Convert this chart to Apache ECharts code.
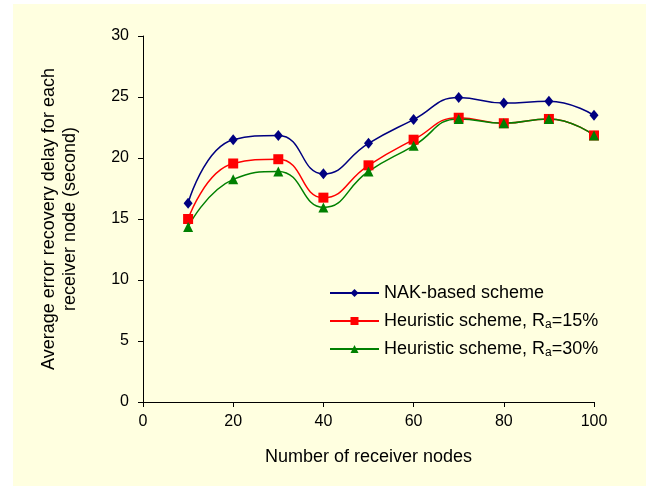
<!DOCTYPE html>
<html>
<head>
<meta charset="utf-8">
<script src="https://cdn.jsdelivr.net/npm/echarts@6/dist/echarts.min.js"></script>
<style>
  html, body { margin: 0; padding: 0; background: #fff; }
  .panel { position: absolute; left: 13px; top: 4px; right: 0; bottom: 0; background: #ffffe0; }
  #chart { position: absolute; left: 0; top: 0; width: 646px; height: 486px; }
</style>
</head>
<body>
<div class="panel"></div>
<div id="chart"></div>
<script>
const nodes = [10, 20, 30, 40, 50, 60, 70, 80, 90, 100];
const nakDelay = [16.3, 21.5, 21.85, 18.7, 21.2, 23.15, 24.95, 24.5, 24.65, 23.5];
const heur15Delay = [15.0, 19.55, 19.9, 16.75, 19.4, 21.5, 23.3, 22.85, 23.2, 21.85];
const heur30Delay = [14.35, 18.25, 18.9, 15.95, 18.9, 21.0, 23.2, 22.85, 23.2, 21.85];
const seriesNames = ['NAK-based scheme', 'Heuristic scheme, Ra=15%', 'Heuristic scheme, Ra=30%'];

const font = 'Liberation Sans, Arial, sans-serif';
const chart = echarts.init(document.getElementById('chart'));

const pairs = vals => nodes.map((x, i) => [x, vals[i]]);

const makeSeries = (name, vals, color, symbol, size) => ({
  name,
  type: 'line',
  smooth: 0.5,
  data: pairs(vals),
  symbol,
  symbolSize: size,
  showSymbol: true,
  lineStyle: { color, width: 1.5 },
  itemStyle: { color },
  emphasis: { disabled: true },
});

chart.setOption({
  backgroundColor: 'transparent',
  animation: false,
  textStyle: { fontFamily: font },
  grid: { left: 143, right: 52, top: 36, bottom: 84 },
  legend: {
    orient: 'vertical',
    left: 329,
    top: 283,
    padding: 0,
    itemGap: 8,
    itemWidth: 49,
    itemHeight: 10,
    data: seriesNames,
    formatter: name => name.replace('Ra', 'R{sub|a}'),
    textStyle: {
      fontFamily: font,
      fontSize: 18,
      color: '#000',
      lineHeight: 20,
      rich: {
        sub: { fontFamily: font, fontSize: 12, color: '#000', padding: [7, 0, 0, 0] },
      },
    },
  },
  xAxis: {
    type: 'value',
    min: 0,
    max: 100,
    interval: 20,
    name: 'Number of receiver nodes',
    nameLocation: 'middle',
    nameGap: 46,
    nameTextStyle: { fontFamily: font, fontSize: 18, color: '#000' },
    splitLine: { show: false },
    axisLine: { lineStyle: { color: '#000', width: 1 } },
    axisTick: { show: true, length: 5, lineStyle: { color: '#000' } },
    axisLabel: { fontFamily: font, fontSize: 16, color: '#000', margin: 12 },
  },
  yAxis: {
    type: 'value',
    min: 0,
    max: 30,
    interval: 5,
    name: 'Average error recovery delay for each\nreceiver node (second)',
    nameLocation: 'middle',
    nameGap: 62,
    nameTextStyle: { fontFamily: font, fontSize: 18, color: '#000', lineHeight: 21 },
    splitLine: { show: false },
    axisLine: { show: true, lineStyle: { color: '#000', width: 1 } },
    axisTick: { show: true, length: 5, lineStyle: { color: '#000' } },
    axisLabel: { fontFamily: font, fontSize: 16, color: '#000', margin: 14 },
  },
  series: [
    makeSeries(seriesNames[0], nakDelay, '#000080', 'diamond', [9, 11]),
    makeSeries(seriesNames[1], heur15Delay, '#ff0000', 'rect', 10),
    makeSeries(seriesNames[2], heur30Delay, '#008000', 'triangle', 10),
  ],
});
</script>
</body>
</html>
